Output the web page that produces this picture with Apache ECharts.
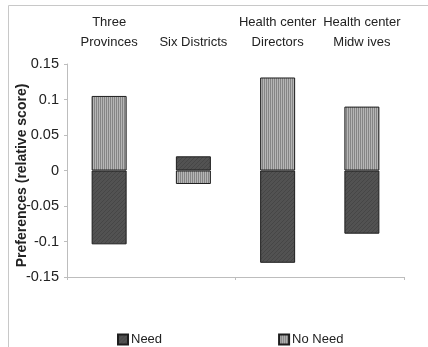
<!DOCTYPE html>
<html>
<head>
<meta charset="utf-8">
<script src="https://cdn.jsdelivr.net/npm/echarts@6/dist/echarts.min.js"></script>
<style>
  html, body { margin: 0; padding: 0; background: #fff; }
  #chart { width: 428px; height: 347px; }
</style>
</head>
<body>
<div id="chart"></div>
<script>
// Groups asked about their preferences
const categories = ['Three\nProvinces', 'Six Districts', 'Health center\nDirectors', 'Health center\nMidw ives'];
// Relative preference scores
const needValues = [-0.104, 0.020, -0.130, -0.089];
const noNeedValues = [0.105, -0.019, 0.131, 0.090];
const yTicks = [-0.15, 0.15, 0.05];

// Fill textures for the two series
function stripePattern() {
  const c = document.createElement('canvas');
  c.width = 2; c.height = 2;
  const g = c.getContext('2d');
  g.fillStyle = '#b6b6b6'; g.fillRect(0, 0, 2, 2);
  g.fillStyle = '#858585'; g.fillRect(0, 0, 1, 2);
  return c;
}
function darkPattern() {
  const c = document.createElement('canvas');
  c.width = 4; c.height = 4;
  const g = c.getContext('2d');
  g.fillStyle = '#525252'; g.fillRect(0, 0, 4, 4);
  g.fillStyle = '#464646';
  for (let i = 0; i < 4; i++) g.fillRect(i, 3 - i, 1, 1);
  return c;
}

const font = 'Liberation Sans, Arial, sans-serif';
const chart = echarts.init(document.getElementById('chart'), null, { renderer: 'canvas' });

chart.setOption({
  animation: false,
  backgroundColor: '#fff',
  textStyle: { fontFamily: font },
  graphic: [{
    type: 'rect', silent: true, z: -1,
    shape: { x: 8.5, y: 5.5, width: 440, height: 360 },
    style: { fill: 'none', stroke: '#c8c8c8', lineWidth: 1 }
  }],
  grid: { left: 67, right: 24, top: 64, bottom: 70, containLabel: false, outerBoundsMode: 'none' },
  legend: {
    left: 117, top: 333, padding: 0,
    itemWidth: 10, itemHeight: 10, itemGap: 116,
    icon: 'rect',
    textStyle: { fontFamily: font, fontSize: 13, color: '#222', padding: [0, 0, 0, -2] },
    data: ['Need', 'No Need']
  },
  xAxis: [{
    type: 'category', data: categories, position: 'top',
    axisLine: { show: false }, axisTick: { show: false },
    axisLabel: { fontFamily: font, fontSize: 13, color: '#222', lineHeight: 20, margin: 12, interval: 0 }
  }, {
    type: 'category', data: categories, position: 'bottom',
    axisLine: { onZero: true, lineStyle: { color: '#bdbdbd', width: 1 } },
    axisTick: { show: true, length: 3, lineStyle: { color: '#bdbdbd' } },
    axisLabel: { show: false }
  }],
  yAxis: {
    type: 'value', min: yTicks[0], max: yTicks[1], interval: yTicks[2],
    name: 'Preferences (relative score)', nameLocation: 'middle', nameGap: 38,
    nameMoveOverlap: false,
    nameTextStyle: { fontFamily: font, fontSize: 14, fontWeight: 'bold', color: '#222', padding: [0, 10, 0, 0] },
    axisLine: { show: true, lineStyle: { color: '#bdbdbd' } },
    axisTick: { show: true, length: 3, lineStyle: { color: '#bdbdbd' } },
    splitLine: { show: false },
    axisLabel: {
      fontFamily: font, fontSize: 14.5, color: '#222', margin: 8,
      formatter: v => String(parseFloat(v.toFixed(2)))
    }
  },
  series: [{
    name: 'Need', type: 'bar', stack: 'pref', xAxisIndex: 1, barWidth: 35,
    data: needValues,
    itemStyle: { color: { image: darkPattern(), repeat: 'repeat' }, borderColor: '#1e1e1e', borderWidth: 1 }
  }, {
    name: 'No Need', type: 'bar', stack: 'pref', xAxisIndex: 1, barWidth: 35,
    data: noNeedValues,
    itemStyle: { color: { image: stripePattern(), repeat: 'repeat' }, borderColor: '#1e1e1e', borderWidth: 1 }
  }]
});
</script>
</body>
</html>
